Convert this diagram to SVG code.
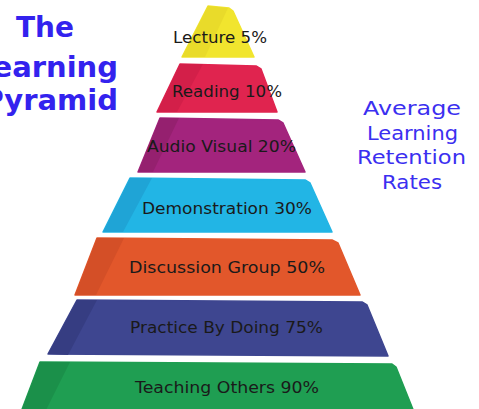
<svg xmlns="http://www.w3.org/2000/svg" width="479" height="409" viewBox="0 0 479 409">
<style>
.title{font-family:"DejaVu Sans","Liberation Sans",sans-serif;font-weight:bold;font-size:29px;fill:#3322ee}
.side{font-family:"DejaVu Sans","Liberation Sans",sans-serif;font-size:19px;fill:#3b2ff0}
.lbl{font-family:"DejaVu Sans","Liberation Sans",sans-serif;font-size:15px;fill:#1a1a1a}
.face{stroke-linejoin:round;stroke-width:1.5}
</style>
<rect width="479" height="409" fill="#ffffff"/>
<g id="title">
<text class="title" x="16" y="37" textLength="58" lengthAdjust="spacingAndGlyphs">The</text>
<text class="title" x="118" y="77" text-anchor="end">Learning</text>
<text class="title" x="118" y="110" text-anchor="end">Pyramid</text>
</g>
<g id="caption">
<text class="side" x="363" y="115" textLength="98" lengthAdjust="spacingAndGlyphs">Average</text>
<text class="side" x="367" y="140" textLength="91" lengthAdjust="spacingAndGlyphs">Learning</text>
<text class="side" x="357" y="164" textLength="109" lengthAdjust="spacingAndGlyphs">Retention</text>
<text class="side" x="382" y="189" textLength="60" lengthAdjust="spacingAndGlyphs">Rates</text>
</g>
<g id="lecture">
<path class="face" d="M208,6 L229,8 L233,11 L254,57 L182,57 Z" fill="#f1e52e" stroke="#f1e52e"/>
<path d="M208,6 L228,8 L205,57 L182,57 Z" fill="#e9db2a"/>
<text class="lbl" x="173" y="43" textLength="94" lengthAdjust="spacingAndGlyphs">Lecture 5%</text>
</g>
<g id="reading">
<path class="face" d="M180,64 L256,66 L261,69 L277,112 L157,112 Z" fill="#e0244f" stroke="#e0244f"/>
<path d="M180,64 L203,64 L177,112 L157,112 Z" fill="#d31f49"/>
<text class="lbl" x="172" y="97" textLength="110" lengthAdjust="spacingAndGlyphs">Reading 10%</text>
</g>
<g id="audio">
<path class="face" d="M160,118 L278,120 L283,123 L305,172 L138,172 Z" fill="#a3247d" stroke="#a3247d"/>
<path d="M160,118 L179,118 L153,172 L138,172 Z" fill="#95206f"/>
<text class="lbl" x="147" y="152" textLength="149" lengthAdjust="spacingAndGlyphs">Audio Visual 20%</text>
</g>
<g id="demonstration">
<path class="face" d="M130,178 L305,180 L310,183 L332,232 L103,232 Z" fill="#22b5e5" stroke="#22b5e5"/>
<path d="M130,178 L152,178 L123,232 L103,232 Z" fill="#1fa4d6"/>
<text class="lbl" x="142" y="214" textLength="170" lengthAdjust="spacingAndGlyphs">Demonstration 30%</text>
</g>
<g id="discussion">
<path class="face" d="M97,238 L332,240 L338,243 L360,295 L75,295 Z" fill="#e2572b" stroke="#e2572b"/>
<path d="M97,238 L124,238 L96,295 L75,295 Z" fill="#d44f27"/>
<text class="lbl" x="129" y="273" textLength="196" lengthAdjust="spacingAndGlyphs">Discussion Group 50%</text>
</g>
<g id="practice">
<path class="face" d="M77,300 L362,302 L367,305 L388,356 L48,354 Z" fill="#3e4690" stroke="#3e4690"/>
<path d="M77,300 L97,300 L68,355 L48,354 Z" fill="#363d82"/>
<text class="lbl" x="130" y="333" textLength="193" lengthAdjust="spacingAndGlyphs">Practice By Doing 75%</text>
</g>
<g id="teaching">
<path class="face" d="M40,362 L392,364 L396,367 L414,412 L21,412 Z" fill="#1f9e52" stroke="#1f9e52"/>
<path d="M40,362 L70,362 L45,412 L21,412 Z" fill="#1b904a"/>
<text class="lbl" x="135" y="393" textLength="184" lengthAdjust="spacingAndGlyphs">Teaching Others 90%</text>
</g>
<g id="connectors"/>
</svg>
